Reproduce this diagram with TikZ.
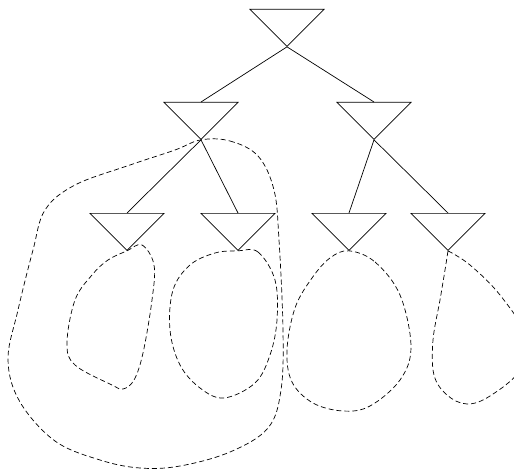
\documentclass[tikz,border=0pt]{standalone}
\usetikzlibrary{shapes.geometric}

\begin{document}
\begin{tikzpicture}[
    x=1pt, y=-1pt,
    tri/.style={isosceles triangle, isosceles triangle apex angle=90,
                isosceles triangle stretches, shape border rotate=270,
                draw, inner sep=0pt, minimum width=74pt, minimum height=37pt,
                anchor=north, line width=0.7pt},
    edge/.style={line width=0.7pt},
    subtree/.style={dashed, dash pattern=on 5pt off 3pt, line width=0.7pt}
  ]
  \clip (0,0) rectangle (514,470);

  % --- tree nodes ---
  \node[tri] (root) at (287,9) {};
  \node[tri] (l) at (201,102) {};
  \node[tri] (r) at (374,102) {};
  \node[tri] (ll) at (127,213) {};
  \node[tri] (lr) at (238,213) {};
  \node[tri] (rl) at (349,213) {};
  \node[tri] (rr) at (448,213) {};

  % --- edges ---
  \draw[edge] (root.apex) -- (l.north);
  \draw[edge] (root.apex) -- (r.north);
  \draw[edge] (l.apex) -- (ll.north);
  \draw[edge] (l.apex) -- (lr.north);
  \draw[edge] (r.apex) -- (rl.north);
  \draw[edge] (r.apex) -- (rr.north);

  % --- subtrees (dashed) ---
  \draw[subtree] plot[smooth cycle, tension=0.6] coordinates {
    (ll.apex) (142,245) (154,265) (152,300) (143,353) (134,380) (123,389)
    (112,385) (75,365) (67,343) (75,300) (92,275) (108,260)};
  \draw[subtree] plot[smooth cycle, tension=0.6] coordinates {
    (lr.apex) (258,252) (275,280) (277,320) (270,355) (255,383) (224,398)
    (200,388) (180,365) (170,330) (173,290) (190,265) (215,253)};
  \draw[subtree] plot[smooth cycle, tension=0.6] coordinates {
    (rl.apex) (375,262) (400,295) (411,347) (400,380) (370,406) (343,411)
    (313,403) (292,382) (287,350) (295,308) (312,278) (330,258)};
  \draw[subtree] plot[smooth, tension=0.6] coordinates {
    (rr.apex) (470,265) (500,295) (525,335) (520,370) (490,396) (467,404)
    (447,395) (434,375) (433,340) (440,300) (445,270) (rr.apex)};
  \draw[subtree] plot[smooth cycle, tension=0.6] coordinates {
    (l.apex) (230,141) (258,156) (274,190) (279,240) (283,330) (281,390)
    (268,428) (230,452) (180,466) (140,468) (100,460) (55,441) (20,402)
    (8,360) (18,310) (33,250) (45,210) (75,185) (130,165) (175,150)};
\end{tikzpicture}
\end{document}
